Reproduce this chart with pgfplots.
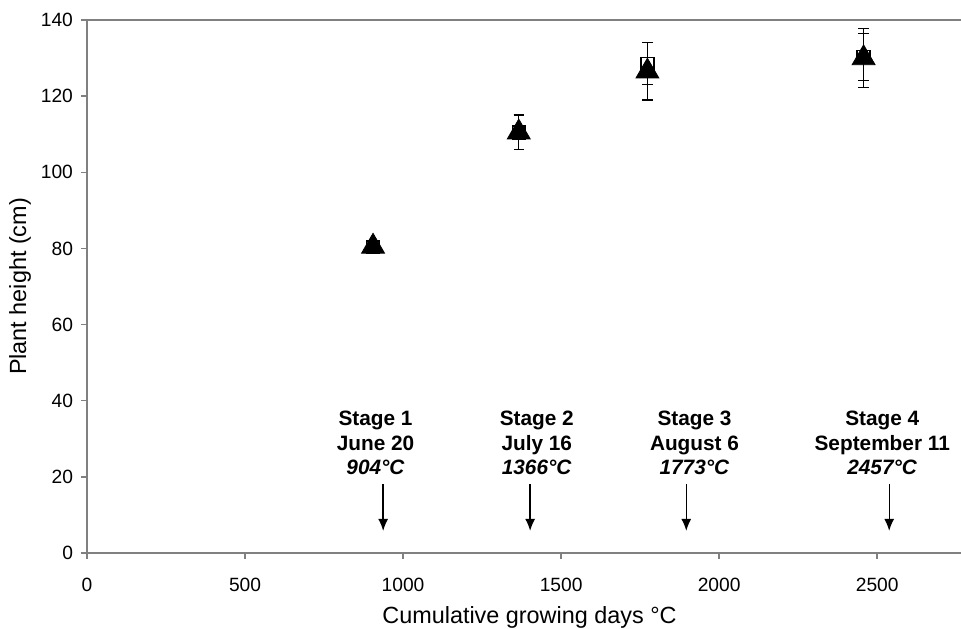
\documentclass[border=0pt]{standalone}
\usepackage{fontspec}
\setmainfont{Liberation Sans}
\usepackage{pgfplots}
\pgfplotsset{compat=1.18}
\usetikzlibrary{arrows.meta}
\definecolor{axgray}{HTML}{808080}

% triangle series (mean, error)
\pgfplotstableread{
x     y      e
905   80.5   0.8
1366  110.5  4.6
1773  126.5  7.5
2457  130.0  7.7
}\tri
% square series
\pgfplotstableread{
x     y      e
905   80.3   0.5
1366  110.4  4.5
1773  128.5  5.5
2457  130.3  6.2
}\sq

\begin{document}
\begin{tikzpicture}
\begin{axis}[
  scale only axis,
  width=442.5pt, height=266.5pt,
  xmin=0, xmax=2800, ymin=0, ymax=140,
  xtick={0,500,...,2500}, ytick={0,20,...,140},
  axis lines=left,
  axis line style={axgray, line width=0.75pt, -},
  tick style={axgray, line width=0.75pt},
  tick align=outside,
  major tick length=3pt,
  /pgf/number format/assume math mode=true,
  /pgf/number format/1000 sep={},
  tick label style={font=\fontsize{9.6}{11}\selectfont},
  xticklabel style={yshift=-5.8pt},
  yticklabel style={xshift=-0.5pt},
  clip=false,
]
\draw[axgray, line width=0.75pt] (rel axis cs:0,1) -- (rel axis cs:1,1);

\addplot[only marks, mark=square, mark size=3.2pt, mark options={fill=white, line width=0.8pt},
  error bars/.cd, y dir=both, y explicit,
  error bar style={line width=0.6pt, black},
  error mark options={rotate=90, mark size=2.6pt, line width=0.6pt}]
  table[x=x, y=y, y error=e] {\sq};
\addplot[only marks, mark=triangle*, mark size=6.6pt, mark options={fill=black},
  error bars/.cd, y dir=both, y explicit,
  error bar style={line width=0.6pt, black},
  error mark options={rotate=90, mark size=2.6pt, line width=0.6pt}]
  table[x=x, y=y, y error=e] {\tri};

% stage annotations
\foreach \xa/\xt/\st/\dt/\gd in {937/913/1/June 20/904, 1402/1423/2/July 16/1366, 1896/1922/3/August 6/1773, 2538/2516/4/September 11/2457}{
  \edef\tmp{\noexpand\node[align=center, font=\noexpand\fontsize{10.4}{12.3}\noexpand\selectfont\noexpand\bfseries] at (axis cs:\xt,28.9)
    {Stage \st\noexpand\\ \dt\noexpand\\ \noexpand\textit{\gd°C}};}
  \tmp
  \edef\tmp{\noexpand\draw[black, line width=0.7pt, -{Latex[length=6pt,width=5pt]}] (axis cs:\xa,18) -- (axis cs:\xa,5.8);}
  \tmp
}

\node[rotate=90, anchor=center, font=\fontsize{11.7}{13}\selectfont] at ([xshift=-33.5pt]rel axis cs:0,0.5) {Plant height (cm)};
\node[anchor=base, font=\fontsize{11.7}{13}\selectfont] at ([yshift=-35.5pt]rel axis cs:0.5,0) {Cumulative growing days °C};
\end{axis}
\pgfresetboundingbox
\path ([xshift=-43.5pt,yshift=-38pt]current axis.south west) rectangle ([xshift=-5.5pt,yshift=10pt]current axis.north east);
\end{tikzpicture}
\end{document}
